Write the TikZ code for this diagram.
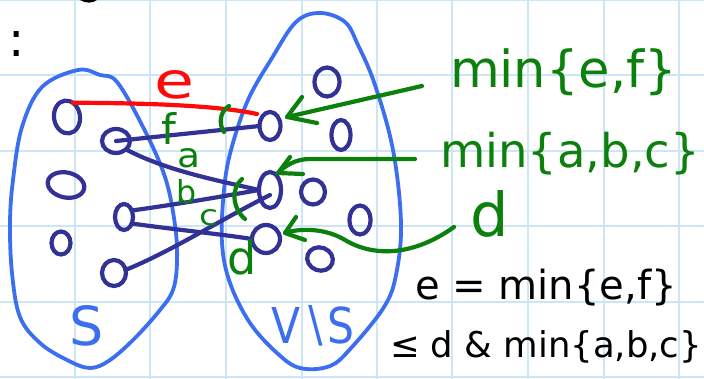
\documentclass[tikz,border=0pt]{standalone}
\usepackage{fontspec}
\setmainfont{DejaVu Sans}
\usetikzlibrary{shapes.geometric}
\definecolor{gridc}{RGB}{205,230,246}
\definecolor{blobc}{RGB}{60,110,240}
\definecolor{nodec}{RGB}{50,50,150}
\definecolor{penc}{RGB}{12,128,12}
\definecolor{redc}{RGB}{255,10,10}
\begin{document}
\begin{tikzpicture}[x=1pt,y=-1pt,
  gridline/.style={draw=gridc, line width=2pt},
  vert/.style={ellipse, draw=nodec, line width=4.2pt, inner sep=0pt, outer sep=0pt},
  blob/.style={draw=blobc, line width=3.8pt},
  edgeline/.style={draw=nodec, line width=4.2pt, line cap=round},
  pen/.style={draw=penc, line width=4.2pt, line cap=round, line join=round},
  txt/.style={inner sep=0pt, outer sep=0pt}]
\useasboundingbox (0,0) rectangle (704,379);
\fill[white] (0,0) rectangle (704,379);
% grid
\foreach \x in {75,150,226,302,377,452,528,604,679} \draw[gridline] (\x,0) -- (\x,379);
\foreach \y in {0,75,151,226,302,377} \draw[gridline] (0,\y) -- (704,\y);
% fragments at top left
\fill[black] (80,0) .. controls (86,3.5) and (92,3.5) .. (97,0) -- cycle;
\node[txt] (colon) at (17,44) {\resizebox{!}{25pt}{:}};
% blobs
\draw[blob] plot[smooth cycle, tension=0.6] coordinates {(78,70) (100,75) (117,82) (143,127) (165,177) (175,225) (177,262) (173,290) (160,310) (135,338) (110,360) (90,368) (67,360) (40,343) (20,317) (12,273) (10,223) (13,180) (22,127) (42,87)};
\draw[blob] plot[smooth cycle, tension=0.6] coordinates {(296,22) (320,13) (345,22) (358,45) (375,85) (393,150) (401,223) (396,275) (384,307) (352,347) (330,366) (300,368) (277,353) (250,323) (230,283) (222,243) (224,190) (231,150) (248,100) (272,58)};
% vertices in S
\node[vert, minimum width=26pt, minimum height=33pt, rotate=8] (L1) at (67,117) {};
\node[vert, minimum width=28pt, minimum height=24pt] (L2) at (116,141) {};
\node[vert, minimum width=37pt, minimum height=25pt, rotate=-12] (L3) at (66,185) {};
\node[vert, minimum width=19pt, minimum height=23pt] (L4) at (61,243) {};
\node[vert, minimum width=18pt, minimum height=26pt] (L5) at (124,217) {};
\node[vert, minimum width=24pt, minimum height=26pt] (L6) at (114,273) {};
% vertices in V-S
\node[vert, minimum width=25pt, minimum height=29pt] (R0) at (327,82) {};
\node[vert, minimum width=19pt, minimum height=30pt] (R01) at (341,135) {};
\node[vert, minimum width=21pt, minimum height=28pt] (R1) at (270,126) {};
\node[vert, minimum width=22pt, minimum height=36pt] (R2) at (270,190) {};
\node[vert, minimum width=24pt, minimum height=25pt] (R21) at (313,192) {};
\node[vert, minimum width=21pt, minimum height=29pt] (R22) at (360,220) {};
\node[vert, minimum width=28pt, minimum height=28pt] (R3) at (266,239) {};
\node[vert, minimum width=26pt, minimum height=23pt, rotate=-20] (R4) at (320,259) {};
% edges
\draw[edgeline] (L2.center) -- (R1.west);
\draw[edgeline] (L2.-40) .. controls (165,170) and (215,180) .. (R2.west);
\draw[edgeline] (L5.40) .. controls (180,204) and (230,195) .. (R2.west);
\draw[edgeline] (L6.15) .. controls (170,252) and (220,220) .. ([yshift=-5pt]R2.center);
\draw[edgeline] (L5.-40) .. controls (170,229) and (220,234) .. (R3.west);
% red edge
\coordinate (redend) at (257,114);
\draw[draw=redc, line width=4.2pt, line cap=round] (L1.60) .. controls (140,103) and (215,105) .. (redend);
\node[txt, text=redc] (elab) at (174,85) {\resizebox{40pt}{28pt}{e}};
% green edge labels
\node[txt, text=penc] (flab) at (169,129) {\resizebox{!}{32pt}{f}};
\node[txt, text=penc] (alab) at (189,158) {\resizebox{23pt}{19pt}{a}};
\node[txt, text=penc] (blab) at (187,192) {\resizebox{!}{24pt}{b}};
\node[txt, text=penc] (clab) at (209,218) {\resizebox{19pt}{16pt}{c}};
\node[txt, text=penc] (dlab) at (242,257) {\resizebox{!}{35pt}{d}};
\draw[pen] (229,106) .. controls (219,112) and (219,125) .. (224,132);
\draw[pen] (242,179) .. controls (231,188) and (232,208) .. (245,219);
% green arrows (hand-drawn open heads)
\coordinate (a1s) at (422,86);
\coordinate (a2s) at (415,159);
\coordinate (a3s) at (454,227);
\coordinate (tip1) at (287,117);
\coordinate (tip2) at (278,173);
\coordinate (tip3) at (285,233);
\draw[pen] (a1s) -- (tip1);
\draw[pen] ([shift={(15,-20)}]tip1) -- (tip1) -- ([shift={(30,6)}]tip1);
\draw[pen] (a2s) -- (310,159) .. controls (295,159) and (285,166) .. (tip2);
\draw[pen] ([shift={(12,-16)}]tip2) -- (tip2) -- ([shift={(25,1)}]tip2);
\draw[pen] (a3s) .. controls (415,255) and (375,258) .. (345,240) .. controls (325,228) and (300,228) .. (tip3);
\draw[pen] ([shift={(11,-16)}]tip3) -- (tip3) -- ([shift={(20,7)}]tip3);
% green texts
\node[txt, text=penc, anchor=base west] (t1) at (450,88) {\resizebox{227pt}{!}{min\{e,f\}}};
\node[txt, text=penc, anchor=base west] (t2) at (440,168) {\resizebox{260pt}{!}{min\{a,b,c\}}};
\node[txt, text=penc] (t3) at (490,214) {\resizebox{!}{46pt}{d}};
% black texts
\node[txt, anchor=base west] (t4) at (415,300) {\resizebox{262pt}{!}{e = min\{e,f\}}};
\node[txt, anchor=base west] (t5) at (390,357) {\resizebox{312pt}{!}{≤ d \& min\{a,b,c\}}};
% set labels
\node[txt, text=blobc] (slab) at (87,326) {\resizebox{!}{40pt}{S}};
\node[txt, text=blobc] (vslab) at (313,326) {\resizebox{83pt}{38pt}{V∖S}};
\end{tikzpicture}
\end{document}
